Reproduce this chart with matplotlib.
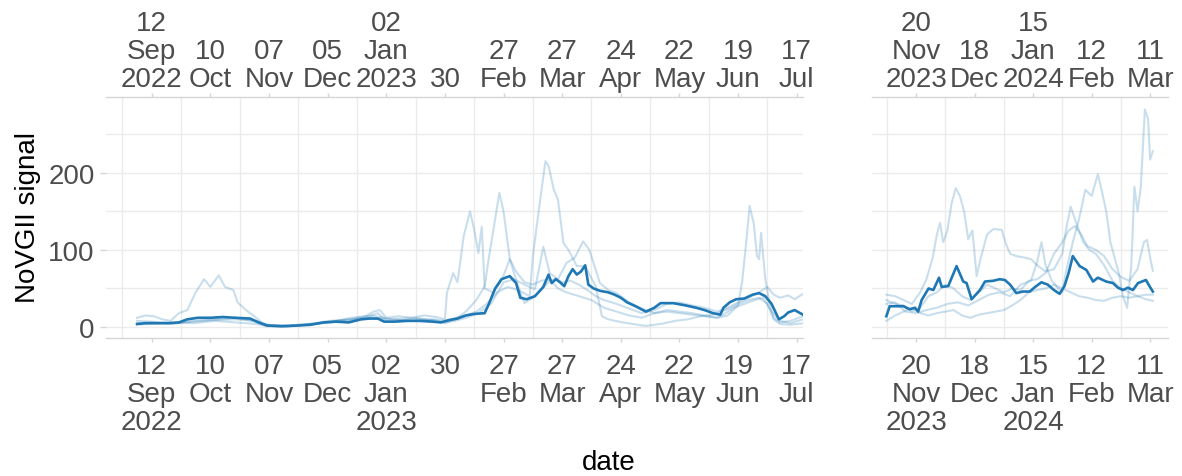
import numpy as np
import pandas as pd
import matplotlib
matplotlib.use("Agg")
import matplotlib.pyplot as plt
import matplotlib.dates as mdates
from matplotlib.ticker import FixedLocator, FixedFormatter, NullFormatter

plt.rcParams['font.family'] = ['Liberation Sans', 'DejaVu Sans']

# ---- data -------------------------------------------------------------
# Offsets are in days from each segment's reference date.
START_A = '2022-09-12'
START_B = '2023-11-20'

# segment A (Sep 2022 - Jul 2023): pooled signal
MEAN_A = [(-7, 4), (-3, 5), (3, 5), (8, 5), (13, 6), (17, 10), (22, 12), (28, 12),
          (34, 13), (40, 12), (47, 11), (51, 6), (55, 2), (62, 1), (70, 2), (76, 3),
          (82, 6), (88, 7), (94, 6), (100, 10), (104, 11), (108, 11), (111, 7),
          (116, 7), (122, 8), (128, 8), (134, 7), (138, 6), (142, 9), (146, 11),
          (150, 15), (154, 17), (159, 18), (161, 30), (164, 50), (167, 62), (171, 66),
          (174, 57), (176, 38), (179, 36), (183, 40), (187, 52), (189.5, 68), (191, 57),
          (193, 62), (195, 58), (197, 53), (199, 66), (201, 75), (203, 68), (205, 72),
          (207, 80), (208.5, 55), (211, 50), (214, 47), (218, 45), (221, 42), (224, 38),
          (227, 32), (231, 27), (236, 20), (240, 25), (243, 31), (249, 31), (255, 28),
          (260, 25), (264, 22), (268, 18), (271.5, 16), (273, 25), (276, 32), (279, 36),
          (283, 37), (287, 42), (290, 44), (293, 40), (296, 30), (299.5, 10), (302, 14),
          (304, 19), (307, 22), (311, 16)]

# segment A: individual sites
SITE1_A = [(-7, 12), (-3, 15), (1, 14), (5, 10), (9, 8), (13, 18), (17, 22), (21, 45),
           (25, 62), (28, 52), (32, 67), (35, 52), (39, 48), (41, 32), (45, 22), (49, 14),
           (53, 5), (57, 2), (65, 2), (73, 3), (80, 5), (88, 8), (95, 10), (102, 14),
           (106, 20), (109, 22), (112, 12), (118, 14), (124, 12), (130, 15), (136, 13),
           (140, 10), (141, 45), (144, 70), (146, 58), (149, 118), (152, 150), (154, 126),
           (156, 96), (157.6, 130), (159, 50), (163, 45), (167, 60), (171, 88), (174, 72),
           (178, 58), (182, 55), (186, 60), (190, 62), (194, 50), (198, 45), (204, 40),
           (210, 35), (216, 25), (222, 20), (228, 15), (234, 12), (240, 18), (246, 22),
           (252, 20), (258, 18), (264, 15), (270, 12), (275, 15), (280, 28), (282, 60),
           (284, 113), (285.5, 157), (287.5, 134), (289, 92), (290, 88), (291, 122),
           (293, 62), (295, 31), (297, 12), (300, 6), (305, 8), (311, 14)]

SITE2_A = [(-7, 5), (0, 6), (10, 4), (20, 8), (30, 10), (40, 12), (48, 8), (55, 2),
           (65, 1), (75, 3), (85, 6), (95, 12), (105, 15), (115, 10), (125, 12), (135, 8),
           (140, 5), (145, 10), (150, 20), (155, 35), (159, 53), (161, 90), (164, 140),
           (166, 174), (168, 150), (171, 88), (173, 70), (176, 45), (178, 31), (182, 38),
           (186, 48), (190, 60), (193, 63), (196, 58), (200, 60), (204, 55), (208, 48),
           (212, 40), (216, 35), (222, 30), (228, 24), (234, 18), (240, 22), (246, 30),
           (252, 32), (258, 28), (264, 25), (270, 20), (275, 25), (280, 32), (285, 38),
           (290, 45), (294, 52), (297, 42), (300, 38), (304, 41), (307, 36), (311, 43)]

SITE3_A = [(-7, 3), (0, 4), (10, 6), (20, 5), (30, 8), (40, 6), (50, 4), (55, 1),
           (65, 1), (75, 4), (85, 8), (95, 10), (105, 12), (115, 10), (125, 8), (135, 10),
           (140, 8), (145, 12), (150, 15), (155, 20), (160, 30), (165, 45), (170, 52),
           (175, 48), (179, 42), (180.5, 40), (182, 92), (185.5, 165), (188, 215),
           (189.5, 209), (192, 178), (194, 165), (196.6, 109), (199, 100), (203, 79),
           (207, 79), (212, 53), (215, 14), (218, 10), (225, 6), (232, 3), (236, 1.5),
           (243, 4), (250, 8), (256, 10), (262, 14), (268, 16), (272, 20), (276, 24),
           (280, 30), (285, 35), (290, 38), (294, 30), (297, 10), (300, 4), (305, 3),
           (311, 5)]

SITE4_A = [(-7, 8), (0, 7), (10, 5), (20, 7), (30, 9), (40, 10), (50, 8), (55, 3),
           (65, 2), (75, 4), (85, 6), (95, 9), (102, 12), (108, 18), (112, 8), (120, 9),
           (128, 11), (135, 9), (140, 6), (145, 8), (150, 12), (156, 18), (162, 30),
           (168, 58), (173, 62), (178, 55), (183, 49), (187, 104), (190, 70), (194, 62),
           (198, 83), (202, 90), (206, 111), (209, 100), (214, 57), (218, 48), (222, 44),
           (228, 32), (234, 24), (240, 18), (246, 20), (252, 18), (258, 16), (264, 14),
           (270, 12), (274, 18), (278, 25), (283, 30), (288, 35), (292, 38), (296, 20),
           (300, 8), (305, 5), (311, 10)]

# segment B (Nov 2023 - Mar 2024): pooled signal
MEAN_B = [(-14.2, 14), (-12.6, 27), (-6, 27), (-3, 23), (-0.5, 25), (1, 20), (2.7, 35),
          (6, 50), (8.3, 48), (11, 64), (12.3, 52), (15.4, 53), (19.4, 79), (22.6, 59),
          (24.2, 57), (26.6, 36), (30.6, 48), (33, 59), (37, 60), (40, 62), (42.5, 61),
          (45, 55), (48, 44), (51, 46), (54.4, 46), (57, 52), (60, 58), (63, 55), (66, 48),
          (68.7, 43), (71, 53), (73, 70), (75, 92), (78.3, 79), (81.5, 74), (84.7, 59),
          (87, 64), (91, 59), (94.2, 57), (96.6, 51), (99, 48), (101.4, 51), (103.8, 48),
          (106.2, 57), (110, 61), (111.7, 53), (113.3, 46)]

# segment B: individual sites
SITE1_B = [(-14.2, 42), (-10, 40), (-6, 35), (-2, 30), (2, 45), (5, 62), (8, 90),
           (10, 120), (11.5, 135), (13, 110), (15, 125), (17, 160), (19, 180), (21, 170),
           (23, 150), (25, 114), (27, 125), (29, 66), (31, 90), (34, 120), (37, 127),
           (41, 126), (43, 108), (45, 95), (48, 92), (52, 90), (55, 88), (58, 80), (62, 72),
           (66, 75), (70, 95), (72, 130), (74, 156), (76, 140), (78, 125), (80, 110),
           (83, 100), (86, 95), (90, 80), (94, 60), (98, 50), (102, 45), (106, 40),
           (110, 42), (113.3, 42)]

SITE2_B = [(-14.2, 30), (-10, 32), (-5, 20), (0, 18), (5, 22), (10, 25), (15, 30),
           (20, 32), (25, 28), (30, 35), (35, 42), (40, 45), (45, 40), (50, 55), (55, 60),
           (58, 85), (60, 110), (62, 80), (65, 60), (68, 50), (70, 45), (72, 75), (75, 110),
           (78, 140), (81, 178), (84, 170), (87, 198), (89, 175), (91, 150), (93, 110),
           (95, 90), (97, 70), (99, 40), (101, 25), (103, 80), (104.5, 182), (106, 150),
           (107.5, 180), (109.5, 282), (111, 270), (112, 217), (113.3, 228)]

SITE3_B = [(-14.2, 35), (-10, 30), (-6, 28), (-2, 20), (2, 25), (6, 40), (10, 45),
           (14, 55), (18, 50), (22, 40), (26, 35), (30, 45), (34, 55), (38, 50), (42, 45),
           (46, 50), (50, 48), (54, 60), (58, 62), (62, 70), (66, 95), (70, 110), (73, 125),
           (76, 131), (79, 120), (82, 105), (86, 100), (90, 92), (94, 75), (98, 65),
           (102, 60), (106, 75), (109, 110), (110.5, 113), (112, 90), (113.3, 73)]

SITE4_B = [(-14.2, 8), (-10, 15), (-6, 20), (-2, 25), (2, 18), (6, 15), (10, 18),
           (14, 20), (18, 22), (22, 15), (26, 12), (30, 16), (34, 18), (38, 20), (42, 22),
           (46, 28), (50, 35), (54, 45), (58, 48), (62, 50), (66, 55), (70, 50), (74, 45),
           (78, 40), (82, 38), (86, 35), (90, 34), (94, 38), (98, 40), (102, 38), (106, 40),
           (110, 36), (113.3, 34)]

# axis breaks and labels
TICKS_A = ['2022-09-12', '2022-10-10', '2022-11-07', '2022-12-05', '2023-01-02',
           '2023-01-30', '2023-02-27', '2023-03-27', '2023-04-24', '2023-05-22',
           '2023-06-19', '2023-07-17']
LABELS_A = ['12\nSep\n2022', '10\nOct', '07\nNov', '05\nDec', '02\nJan\n2023', '30',
            '27\nFeb', '27\nMar', '24\nApr', '22\nMay', '19\nJun', '17\nJul']
TICKS_B = ['2023-11-20', '2023-12-18', '2024-01-15', '2024-02-12', '2024-03-11']
LABELS_B = ['20\nNov\n2023', '18\nDec', '15\nJan\n2024', '12\nFeb', '11\nMar']
Y_MAJOR = [0, 100, 200]
Y_MINOR = [50, 150, 250]

# ---- styling ----------------------------------------------------------
DARK = '#1f78b4'
GRID = '#EBEBEB'
AXLINE = '#D6D6D6'
TXT = '#4D4D4D'
FS = 20
LS = 1.1


def xy(start, pts):
    base = mdates.date2num(pd.Timestamp(start))
    d = np.array([p[0] for p in pts], dtype=float)
    v = np.array([p[1] for p in pts], dtype=float)
    return base + d, v


def dnum(s):
    return mdates.date2num(pd.Timestamp(s))


fig = plt.figure(figsize=(11.82, 4.77), dpi=100)
W, H = 1182, 477
top_px, bot_px = 98, 339
axA = fig.add_axes([105.7 / W, 1 - bot_px / H, (803 - 105.7) / W, (bot_px - top_px) / H])
axB = fig.add_axes([871.7 / W, 1 - bot_px / H, (1168.3 - 871.7) / W, (bot_px - top_px) / H])

panels = [
    (axA, START_A, MEAN_A, [SITE1_A, SITE2_A, SITE3_A, SITE4_A], TICKS_A, LABELS_A,
     (dnum('2022-09-12') - 21.97, dnum('2023-07-17') + 3.0)),
    (axB, START_B, MEAN_B, [SITE1_B, SITE2_B, SITE3_B, SITE4_B], TICKS_B, LABELS_B,
     (dnum('2023-11-20') - 21.2, dnum('2024-03-11') + 8.7)),
]

for ax, start, mean, sites, ticks, labels, xlim in panels:
    for s in sites:
        x, v = xy(start, s)
        ax.plot(x, v, color=DARK, alpha=0.24, lw=1.5, solid_joinstyle='round')
    x, v = xy(start, mean)
    ax.plot(x, v, color=DARK, lw=1.9, solid_joinstyle='round')

    ax.set_xlim(*xlim)
    ax.set_ylim(-14.2, 298.2)

    tick_pos = [dnum(t) for t in ticks]
    minor_pos = [p - 14 for p in tick_pos]
    ax.xaxis.set_major_locator(FixedLocator(tick_pos))
    ax.xaxis.set_major_formatter(FixedFormatter(labels))
    ax.xaxis.set_minor_locator(FixedLocator(minor_pos))
    ax.xaxis.set_minor_formatter(NullFormatter())
    ax.yaxis.set_major_locator(FixedLocator(Y_MAJOR))
    ax.yaxis.set_minor_locator(FixedLocator(Y_MINOR))

    ax.grid(False)
    ax.grid(True, which='minor', axis='x', color=GRID, lw=1.0)
    ax.grid(True, which='both', axis='y', color=GRID, lw=1.0)
    ax.set_axisbelow(True)

    for side in ('left', 'right'):
        ax.spines[side].set_visible(False)
    for side in ('top', 'bottom'):
        ax.spines[side].set_color(AXLINE)
        ax.spines[side].set_linewidth(1.0)

    ax.tick_params(axis='x', which='major', bottom=True, top=False, length=3,
                   width=1.0, color=AXLINE, labelsize=FS, labelcolor=TXT, pad=8)
    ax.tick_params(axis='x', which='minor', bottom=False, top=False, length=0)
    for lab in ax.get_xticklabels():
        lab.set_linespacing(LS)
        lab.set_multialignment('center')

    sec = ax.secondary_xaxis('top')
    sec.xaxis.set_major_locator(FixedLocator(tick_pos))
    sec.xaxis.set_major_formatter(FixedFormatter(labels))
    sec.tick_params(axis='x', which='major', length=3, width=1.0, color=AXLINE,
                    labelsize=FS, labelcolor=TXT, pad=0.5)
    sec.tick_params(axis='x', which='minor', length=0)
    sec.spines['top'].set_visible(False)
    for lab in sec.xaxis.get_ticklabels():
        lab.set_linespacing(LS)
        lab.set_multialignment('center')

axA.tick_params(axis='y', which='major', left=True, length=4, width=1.0, color=AXLINE,
                labelsize=FS, labelcolor=TXT, pad=4)
axA.tick_params(axis='y', which='minor', left=False, length=0)
axB.tick_params(axis='y', which='both', left=False, labelleft=False, length=0)

fig.text(28 / W, 1 - 218 / H, 'NoVGII signal', rotation=90, ha='center', va='center',
         fontsize=FS, color='black')
fig.text(609 / W, 1 - 463 / H, 'date', ha='center', va='center', fontsize=FS,
         color='black')

fig.savefig('out.png', dpi=100)
